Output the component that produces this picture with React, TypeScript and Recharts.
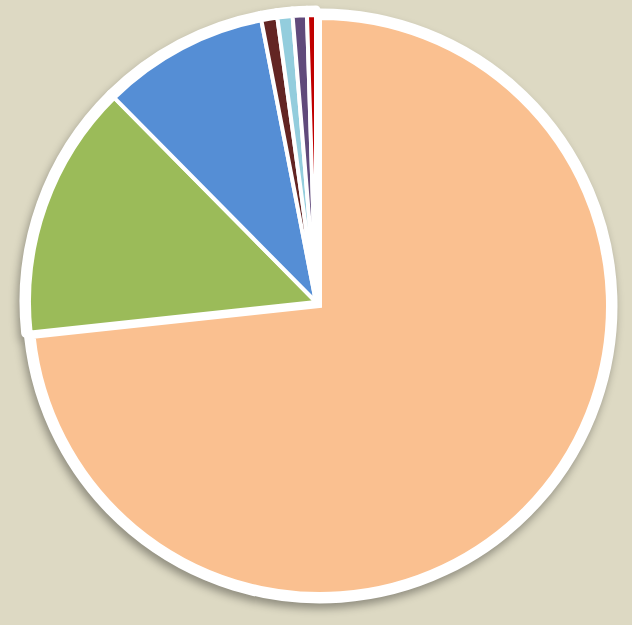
import { Cell, Pie, PieChart } from "recharts";

const categories = ["A", "B", "C", "D", "E", "F", "G"];
const shares = [73.3, 14.3, 9.35, 0.9, 0.85, 0.8, 0.5];
const sliceColors = ["#FAC090", "#9BBB59", "#558ED5", "#632523", "#93CDDD", "#604A7B", "#C00000"];

// the big slice is pulled out a little from the rest
const EXPLODED = "A";

const data = categories.map((name, i) => ({ name, value: shares[i] }));

const common = {
  data,
  dataKey: "value",
  nameKey: "name",
  startAngle: 90,
  endAngle: -270,
  isAnimationActive: false,
};

const restCenter = { cx: 316, cy: 302 };
const bigCenter = { cx: 320, cy: 306 };

export default function App() {
  return (
    <div
      style={{
        position: "absolute",
        left: 0,
        top: 0,
        width: 632,
        height: 625,
        background: "#DDD9C3",
        overflow: "hidden",
      }}
    >
      <div style={{ filter: "drop-shadow(-2px 5px 4px rgba(0,0,0,0.35))" }}>
        <PieChart width={632} height={625} margin={{ top: 0, right: 0, bottom: 0, left: 0 }}>
          {/* white rims */}
          <Pie {...common} {...restCenter} outerRadius={292} stroke="none">
            {data.map((d) => (
              <Cell
                key={d.name}
                fill={d.name === EXPLODED ? "none" : "#FFFFFF"}
                stroke={d.name === EXPLODED ? "none" : "#FFFFFF"}
                strokeWidth={9}
                strokeLinejoin="round"
              />
            ))}
          </Pie>
          <Pie {...common} {...bigCenter} outerRadius={293} stroke="none">
            {data.map((d) => (
              <Cell
                key={d.name}
                fill={d.name === EXPLODED ? "#FFFFFF" : "none"}
                stroke={d.name === EXPLODED ? "#FFFFFF" : "none"}
                strokeWidth={9}
                strokeLinejoin="round"
              />
            ))}
          </Pie>
          {/* coloured slices */}
          <Pie {...common} {...restCenter} outerRadius={287} stroke="none">
            {data.map((d, i) => (
              <Cell
                key={d.name}
                fill={d.name === EXPLODED ? "none" : sliceColors[i]}
                stroke={d.name === EXPLODED ? "none" : "#FFFFFF"}
                strokeWidth={4}
              />
            ))}
          </Pie>
          <Pie {...common} {...bigCenter} outerRadius={288} stroke="none">
            {data.map((d, i) => (
              <Cell
                key={d.name}
                fill={d.name === EXPLODED ? sliceColors[i] : "none"}
                stroke={d.name === EXPLODED ? "#FFFFFF" : "none"}
                strokeWidth={4}
              />
            ))}
          </Pie>
        </PieChart>
      </div>
    </div>
  );
}
